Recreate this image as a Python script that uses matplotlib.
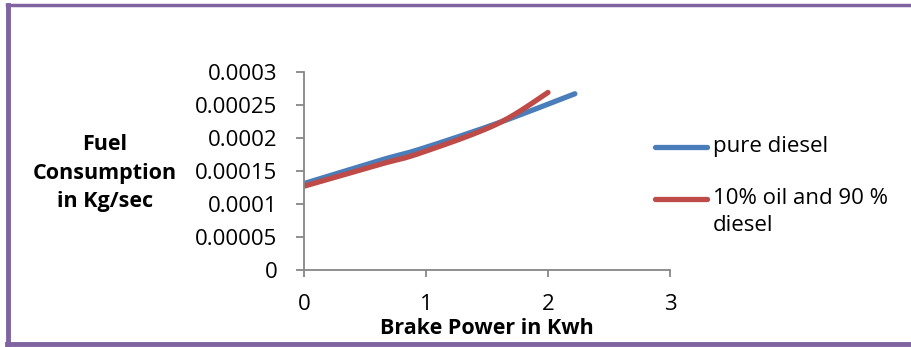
import numpy as np
import matplotlib.pyplot as plt
from matplotlib.lines import Line2D

plt.rcParams['font.family'] = ['Open Sans', 'DejaVu Sans']

# brake power (kWh) and fuel consumption (kg/s)
bp_diesel = [0, 0.62, 0.95, 1.58, 2.22]
fc_diesel = [0.000131, 0.000166, 0.000183, 0.000222, 0.000267]
bp_blend = [0, 0.62, 0.95, 1.58, 2.0]
fc_blend = [0.000127, 0.000160, 0.000177, 0.000221, 0.000269]

names = ["pure diesel", "10% oil and 90 %\ndiesel"]
colors = ["#4A7EBB", "#BE4B48"]

xticks = [0, 1, 2, 3]
yticks = [0, 0.00005, 0.0001, 0.00015, 0.0002, 0.00025, 0.0003]
ytick_labels = ["0", "0.00005", "0.0001", "0.00015", "0.0002", "0.00025", "0.0003"]


def smooth(x, y, n=40):
    # bezier smoothing through the points, same as a spreadsheet "smoothed line"
    p = np.column_stack([x, y]).astype(float)
    p_ext = np.vstack([p[0], p, p[-1]])
    out = []
    t = np.linspace(0, 1, n)[:, None]
    for i in range(len(p) - 1):
        p0, p1 = p_ext[i + 1], p_ext[i + 2]
        c1 = p0 + (p_ext[i + 2] - p_ext[i]) / 6
        c2 = p1 - (p_ext[i + 3] - p_ext[i + 1]) / 6
        seg = ((1 - t) ** 3) * p0 + 3 * ((1 - t) ** 2) * t * c1 + 3 * (1 - t) * t ** 2 * c2 + t ** 3 * p1
        out.append(seg)
    out = np.vstack(out)
    return out[:, 0], out[:, 1]


W, H = 912, 347
fig = plt.figure(figsize=(W / 100, H / 100), dpi=100)
ax = fig.add_axes([304 / W, (H - 270) / H, 366 / W, 198 / H])

for xs, ys, c in [(bp_diesel, fc_diesel, colors[0]), (bp_blend, fc_blend, colors[1])]:
    sx, sy = smooth(xs, ys)
    ax.plot(sx, sy, color=c, lw=3.8, solid_capstyle='round')

ax.set_xlim(0, 3)
ax.set_ylim(0, 0.0003)
ax.set_xticks(xticks)
ax.set_yticks(yticks)
ax.set_yticklabels(ytick_labels)
for s in ['top', 'right']:
    ax.spines[s].set_visible(False)
for s in ['left', 'bottom']:
    ax.spines[s].set_color('#868686')
    ax.spines[s].set_linewidth(1.3)
ax.tick_params(axis='y', length=6, width=1.3, color='#868686', pad=13, labelsize=16)
ax.tick_params(axis='x', length=5, width=1.3, color='#868686', pad=12, labelsize=16)

fig.text(105 / W, (H - 173) / H, "Fuel\nConsumption\nin Kg/sec", ha='center', va='center',
         multialignment='center', fontsize=15.5, fontweight='bold', linespacing=1.5)
fig.text(487 / W, (H - 328) / H, "Brake Power in Kwh", ha='center', va='center',
         fontsize=15.5, fontweight='bold')

# legend on the right
for i, (name, c) in enumerate(zip(names, colors)):
    ly = (H - (147 + 52 * i)) / H
    fig.add_artist(Line2D([655 / W, 707 / W], [ly, ly], color=c, lw=3.8,
                          solid_capstyle='round', transform=fig.transFigure))
    fig.text(713 / W, ly + 11 / H, name, ha='left', va='top', fontsize=16,
             linespacing=1.4, transform=fig.transFigure)

# outer frame
frame = '#8064A2'
fig.add_artist(Line2D([7 / W, 1], [1 - 4.5 / H, 1 - 4.5 / H], color=frame, lw=2.5, transform=fig.transFigure))
fig.add_artist(Line2D([7 / W, 1], [3 / H, 3 / H], color=frame, lw=3.5, transform=fig.transFigure))
fig.add_artist(Line2D([8.5 / W, 8.5 / W], [3 / H, 1 - 4.5 / H], color=frame, lw=3.5, transform=fig.transFigure))

fig.savefig("out.png", dpi=100)
